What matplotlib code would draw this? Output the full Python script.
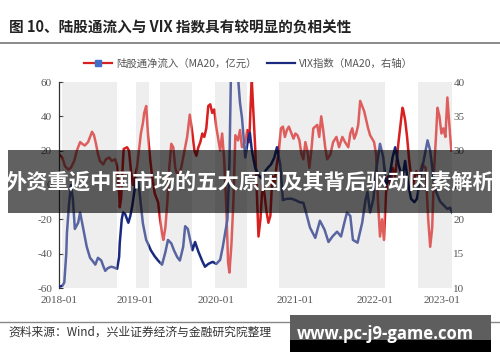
import matplotlib
matplotlib.use("Agg")
import matplotlib.pyplot as plt
from matplotlib.patches import Rectangle
from matplotlib.lines import Line2D

plt.rcParams['font.family'] = ['Noto Sans CJK SC', 'DejaVu Sans']

# x values: months since 2018-01
red_month = [0.0, 0.5, 0.9, 1.4, 1.8, 2.3, 2.7, 3.2, 3.5, 3.9, 4.4, 4.7, 5.0, 5.3, 5.6, 5.9,
             6.2, 6.7, 7.1, 7.6, 8.0, 8.5, 8.8, 9.1, 9.2, 9.4, 9.7, 9.8, 10.3, 10.6, 10.9,
             11.2, 11.5, 11.8, 12.1, 12.4, 12.7, 12.9, 13.2, 13.3, 13.5, 13.8, 14.1, 14.5,
             15.0, 15.3, 15.6, 15.8, 16.1, 16.4, 16.7, 17.0, 17.3, 17.6, 18.0, 18.5, 18.9,
             19.4, 19.7, 19.8, 20.2, 20.5, 20.8, 21.1, 21.4, 21.7, 22.0, 22.3, 22.6, 22.9,
             23.2, 23.5, 23.8, 24.1, 24.4, 24.7, 25.0, 25.3, 25.6, 25.8, 26.1, 26.4, 26.7,
             27.1, 27.4, 27.7, 28.2, 28.5, 28.8, 29.1, 29.2, 29.4, 29.7, 30.0, 30.2, 30.5,
             30.8, 31.1, 31.4, 31.7, 32.0, 32.3, 32.6, 32.9, 33.3, 33.6, 33.9, 34.2, 34.5,
             34.8, 35.2, 35.5, 35.8, 36.1, 36.4, 36.7, 37.0, 37.3, 37.6, 37.9, 38.2, 38.5,
             38.8, 39.1, 39.4, 39.7, 40.0, 40.3, 40.6, 41.1, 41.5, 42.0, 42.4, 42.9, 43.3,
             43.8, 44.1, 44.4, 44.7, 45.0, 45.3, 45.6, 45.9, 46.2, 46.5, 46.8, 47.1, 47.4,
             47.7, 48.0, 48.3, 48.6, 48.9, 49.2, 49.5, 49.8, 50.2, 50.5, 50.9, 51.4, 51.7,
             52.0, 52.1, 52.4, 52.7, 53.0, 53.3, 53.6, 54.1, 54.5, 55.0, 55.5, 55.9, 56.2,
             56.5, 56.8, 57.1, 57.3, 57.6, 57.9, 58.2, 58.5, 58.8, 59.1, 59.4]
red_value = [18, 16, 11, 9, 10, 14, 20, 25, 24, 23, 25, 28, 31, 29, 24, 18,
             14, 12, 15, 16, 14, 15, 11, -5, -13, -8, 15, 21, 22, 20, 8,
             0, 5, 10, 20, 30, 36, 42, 46, 40, 28, 15, 5, -5,
             -10, -20, -28, -32, -25, -10, 10, 24, 22, 10, 5, 10, 18,
             28, 38, 41, 30, 20, 17, 22, 25, 30, 28, 33, 46, 47,
             42, 44, 34, 27, 20, 30, 15, -10, -45, -51, -35, -10, 29,
             26, 32, 22, 25, 32, 25, 55, 60, 45, 22, -10, -30, -20,
             0, -5, -15, -22, -18, 5, 0, 10, 20, 33, 34, 28, 32,
             34, 30, 27, 30, 29, 26, 18, 15, 25, 20, 10, 20, 33,
             34, 35, 28, 40, 32, 22, 15, 18, 25, 28, 22, 28, 25,
             22, 30, 33, 27, 30, 35, 49, 46, 43, 38, 33, 29, 27,
             25, 18, -10, -30, -20, -32, -5, 5, 0, 10, 5, 25, 35,
             45, 44, 38, 28, 15, 5, 0, 8, 5, 12, 10, -20, -36,
             -25, 10, 30, 45, 40, 30, 33, 28, 51, 35, 20]

vix_month = [0.0, 0.5, 0.8, 1.1, 1.2, 1.5, 1.8, 2.1, 2.4, 2.9, 3.2, 3.6, 3.9, 4.2, 4.7, 5.2,
             5.5, 5.9, 6.4, 6.7, 7.0, 7.4, 7.9, 8.3, 8.8, 9.1, 9.2, 9.5, 9.7, 10.0, 10.5,
             10.8, 11.1, 11.4, 11.7, 12.0, 12.3, 12.7, 13.2, 13.5, 13.9, 14.5, 15.0, 15.6,
             16.1, 16.5, 17.0, 17.4, 17.9, 18.3, 18.8, 19.1, 19.5, 20.2, 20.6, 21.1, 21.7,
             22.1, 22.6, 23.0, 23.3, 23.8, 24.4, 24.8, 25.5, 25.8, 26.1, 26.4, 26.7, 27.0,
             27.4, 27.7, 28.2, 28.6, 28.9, 29.2, 29.7, 30.2, 30.6, 31.2, 31.7, 32.1, 32.6,
             33.0, 33.5, 33.9, 34.5, 35.2, 35.8, 36.4, 37.0, 37.4, 38.0, 38.8, 39.5, 40.2,
             40.8, 41.4, 42.1, 42.7, 43.2, 43.6, 44.1, 44.5, 45.2, 45.9, 46.4, 46.7, 47.1,
             47.6, 48.0, 48.6, 49.1, 49.5, 50.0, 50.5, 50.9, 51.4, 52.0, 52.4, 52.9, 53.3,
             53.8, 54.2, 54.7, 55.3, 55.8, 56.2, 56.7, 57.1, 57.7, 58.3, 58.8, 59.2, 59.5]
vix_value = [10.2, 10.3, 10.8, 15, 18, 22, 25, 23, 18.6, 19.5, 21, 19, 17.5, 16, 14.4, 13.8,
             13.4, 14.4, 14, 13.2, 12.5, 12.9, 13.1, 13.0, 12.8, 14.5, 16.6, 20, 21, 20.8, 19.5,
             20.5, 22, 24, 26, 25.5, 23, 19.4, 17.0, 16.4, 15.5, 14.6, 14, 13.4,
             15.2, 17.0, 16.5, 15.5, 14.5, 14.0, 16, 19, 18.6, 15.5, 16.7, 15.3, 13.9,
             13.1, 13.5, 13.7, 13.8, 13.5, 14.1, 16, 20, 28, 45, 55, 52, 42,
             37, 34.8, 29, 31.5, 32.6, 30, 27.5, 26.5, 26, 27, 27.6, 28, 29,
             30.5, 27.9, 22.8, 23, 23, 22.8, 22.5, 22.4, 21, 18.8, 17.3, 19.8, 18.5,
             16.7, 17.5, 18.2, 17.5, 19.5, 21, 20.5, 17, 16.6, 19.5, 22.8, 24, 21,
             23, 27, 31, 29, 25, 26, 29, 30.5, 28, 26, 28.5, 25, 23,
             22.5, 23, 26, 29, 31.5, 30, 26, 24, 22.6, 22, 21.5, 21.7, 21]

shade_periods = [(0.5, 8.8), (11.7, 13.6), (15.3, 20.2), (23.6, 28.5), (33.3, 49.4), (54.4, 59.5)]

tick_month = [0, 11.5, 23.8, 35.8, 47.9, 58.0]
tick_labels = ["2018-01", "2019-01", "2020-01", "2021-01", "2022-01", "2023-01"]
left_ticks = [60, 40, 20, 0, -20, -40, -60]
right_ticks = [40, 35, 30, 25, 20, 15, 10]

title = "图 10、陆股通流入与 VIX 指数具有较明显的负相关性"
legend_labels = ["陆股通净流入（MA20，亿元）", "VIX指数（MA20，右轴）"]
source = "资料来源：Wind，兴业证券经济与金融研究院整理"
banner = "外资重返中国市场的五大原因及其背后驱动因素解析"
watermark = "www.pc-j9-game.com"

RED = "#d82020"
NAVY = "#1a2a80"
SHADE = "#eeeeee"
SERIF = "Liberation Serif"

W, H = 500, 362
fig = plt.figure(figsize=(W / 100, H / 100), dpi=100)
ax = fig.add_axes([59 / W, 74 / H, 393 / W, 206 / H])
ax2 = ax.twinx()

for a, b in shade_periods:
    ax.axvspan(a, b, color=SHADE, lw=0, zorder=0)

ax.plot(red_month, red_value, color=RED, lw=1.8, zorder=2)
ax2.plot(vix_month, vix_value, color=NAVY, lw=1.8, zorder=2)

# light veil over lines in the shaded periods
for a, b in shade_periods:
    ax2.axvspan(a, b, color=SHADE, alpha=0.3, lw=0, zorder=5)

ax.set_xlim(0, 59.5)
ax.set_ylim(-60, 60)
ax2.set_ylim(10, 40)

ax.set_xticks(tick_month)
ax.set_xticklabels(tick_labels, family=SERIF, fontsize=8, color="#555555")
ax.set_yticks(left_ticks)
ax.set_yticklabels([str(v) for v in left_ticks], family=SERIF, fontsize=8, color="#555555")
ax2.set_yticks(right_ticks)
ax2.set_yticklabels([str(v) for v in right_ticks], family=SERIF, fontsize=8, color="#555555")

ax.tick_params(axis="x", length=0, pad=6)
ax.tick_params(axis="y", direction="in", length=3, width=0.8, color="#333333", pad=5)
ax2.tick_params(axis="y", length=0, pad=1)

for s in ["top", "right", "bottom"]:
    ax.spines[s].set_visible(False)
    ax2.spines[s].set_visible(False)
ax2.spines["left"].set_visible(False)
ax.spines["left"].set_color("#333333")
ax.spines["left"].set_linewidth(0.9)

handles = [
    Line2D([], [], color=RED, lw=1.6, marker="s", markersize=4.5,
           markerfacecolor="#3f6fc8", markeredgecolor="#3f6fc8"),
    Line2D([], [], color=NAVY, lw=1.6),
]
fig.legend(handles, legend_labels, loc="center", bbox_to_anchor=(0.497, 1 - 64 / H),
           ncol=2, frameon=False, fontsize=7.5, handlelength=2.7, handletextpad=0.4,
           columnspacing=1.0, labelcolor="#555555")

fig.text(9 / W, 1 - 28 / H, title, ha="left", va="center", fontsize=10.5,
         weight="bold", color="#222222")
fig.add_artist(Line2D([0, 1], [1 - 43 / H] * 2, transform=fig.transFigure,
                      color="#777777", lw=1.2))
fig.add_artist(Line2D([0, 1], [1 - 322 / H] * 2, transform=fig.transFigure,
                      color="#888888", lw=1.0))
fig.text(8 / W, 1 - 332 / H, source, ha="left", va="center", fontsize=8.5, color="#333333")

# dark banner across the plot
fig.add_artist(Rectangle((8 / W, 1 - 213 / H), 484 / W, 63 / H, transform=fig.transFigure,
                         facecolor="black", alpha=0.62, lw=0, zorder=10))
fig.text(0.5, 1 - 182.5 / H, banner, ha="center", va="center", fontsize=15.3,
         weight="bold", color="white", zorder=11)

# watermark box
fig.add_artist(Rectangle((290 / W, 1 - 340 / H), 201 / W, 25 / H, transform=fig.transFigure,
                         facecolor="#5e5e5e", lw=0, zorder=10))
fig.add_artist(Rectangle((290 / W, 1 - 352 / H), 201 / W, 12 / H, transform=fig.transFigure,
                         facecolor="black", lw=0, zorder=10))
fig.text(385 / W, 1 - 334 / H, watermark, ha="center", va="center", fontsize=12,
         weight="bold", color="white", family=["Open Sans", "DejaVu Sans"], zorder=11)

fig.savefig("out.png", dpi=100)
